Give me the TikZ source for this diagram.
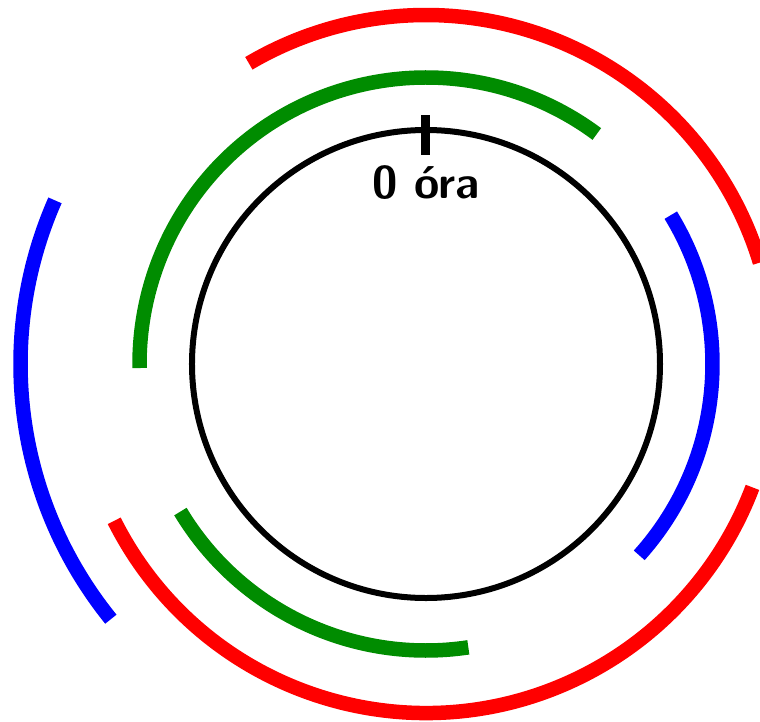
\documentclass[tikz,border=0pt]{standalone}
\usepackage{tikz}

\begin{document}
\begin{tikzpicture}[x=1pt,y=1pt]
        % Define colors
        \definecolor{daycolor}{RGB}{255, 0, 0}     % Red
        \definecolor{shiftcolor}{RGB}{0, 140, 0}   % Green
        \definecolor{nightcolor}{RGB}{0, 0, 255}   % Blue

        % Fix the picture size
        \useasboundingbox (-426,-357) rectangle (334,364);

        % Draw clock circle
        \node[draw, circle, line width=6pt, minimum size=468pt, inner sep=0pt] (clock) at (0,0) {};

        % Draw tick and label for 0
        \coordinate (ticktop) at (0,249);
        \coordinate (tickbot) at (0,209);
        \draw[line width=9pt] (ticktop) -- (tickbot);
        \node[font=\fontsize{46}{50}\selectfont\sffamily\bfseries, inner sep=0pt] (zero) at (0,181) {0 óra};

        % Draw green arcs
        \draw[shiftcolor, line width=14.5pt] (53.4:286.5) arc (53.4:180.8:286.5);
        \draw[shiftcolor, line width=14.5pt] (211:286.5) arc (211:278.5:286.5);

        % Draw red arcs
        \draw[daycolor, line width=14.5pt] (16.9:349) arc (16.9:120.5:349);
        \draw[daycolor, line width=14.5pt] (206.7:349) arc (206.7:339.3:349);

        % Draw blue arcs
        \draw[nightcolor, line width=14.5pt] (156.2:405.5) arc (156.2:219:405.5);
        \draw[nightcolor, line width=14.5pt] (-41.9:286.5) arc (-41.9:31.3:286.5);

    \end{tikzpicture}
\end{document}
